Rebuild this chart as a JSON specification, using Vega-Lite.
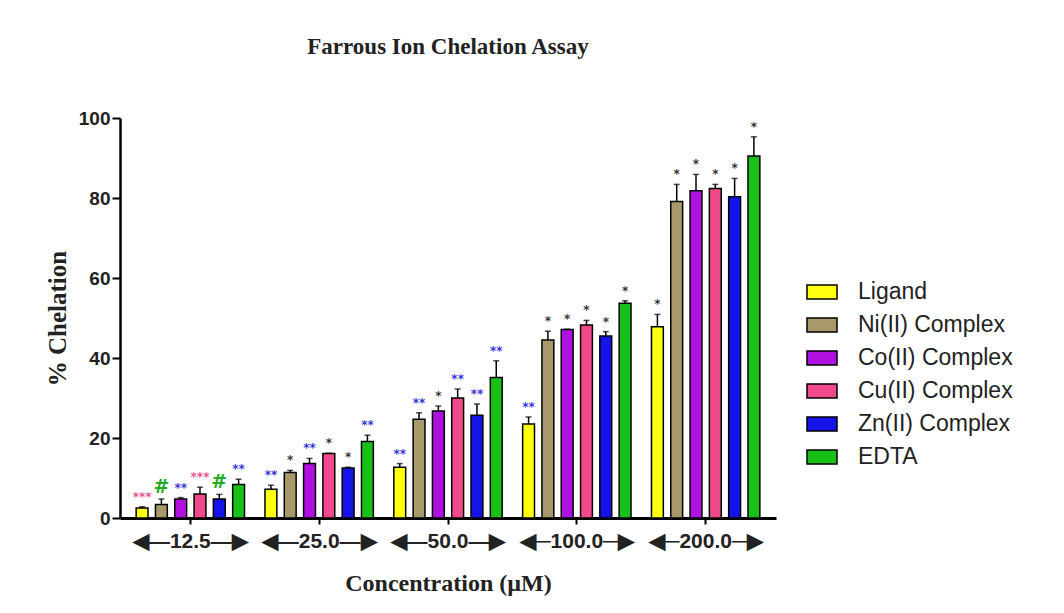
{
  "$schema": "https://vega.github.io/schema/vega-lite/v6.json",
  "autosize": "none",
  "width": 656,
  "height": 400,
  "padding": {"left": 120, "top": 118, "right": 288, "bottom": 95},
  "background": "white",
  "title": {"text": "Farrous Ion Chelation Assay", "font": "Liberation Serif", "fontSize": 23, "fontWeight": "bold", "color": "#222", "anchor": "middle", "offset": 50},
  "config": {"view": {"stroke": null}, "axis": {"grid": false}},
  "data": {"values": [
    {"conc": "12.5", "series": "Ligand", "value": 2.5, "upper": 2.8, "label": "***"},
    {"conc": "12.5", "series": "Ni(II) Complex", "value": 3.4, "upper": 4.75, "label": "#"},
    {"conc": "12.5", "series": "Co(II) Complex", "value": 4.75, "upper": 5.1, "label": "**"},
    {"conc": "12.5", "series": "Cu(II) Complex", "value": 6.0, "upper": 7.7, "label": "***"},
    {"conc": "12.5", "series": "Zn(II) Complex", "value": 4.75, "upper": 5.9, "label": "#"},
    {"conc": "12.5", "series": "EDTA", "value": 8.4, "upper": 9.7, "label": "**"},
    {"conc": "25.0", "series": "Ligand", "value": 7.2, "upper": 8.2, "label": "**"},
    {"conc": "25.0", "series": "Ni(II) Complex", "value": 11.4, "upper": 11.9, "label": "*"},
    {"conc": "25.0", "series": "Co(II) Complex", "value": 13.6, "upper": 14.9, "label": "**"},
    {"conc": "25.0", "series": "Cu(II) Complex", "value": 16.1, "upper": 16.2, "label": "*"},
    {"conc": "25.0", "series": "Zn(II) Complex", "value": 12.5, "upper": 12.7, "label": "*"},
    {"conc": "25.0", "series": "EDTA", "value": 19.1, "upper": 20.7, "label": "**"},
    {"conc": "50.0", "series": "Ligand", "value": 12.7, "upper": 13.6, "label": "**"},
    {"conc": "50.0", "series": "Ni(II) Complex", "value": 24.7, "upper": 26.3, "label": "**"},
    {"conc": "50.0", "series": "Co(II) Complex", "value": 26.75, "upper": 28.0, "label": "*"},
    {"conc": "50.0", "series": "Cu(II) Complex", "value": 30.0, "upper": 32.25, "label": "**"},
    {"conc": "50.0", "series": "Zn(II) Complex", "value": 25.7, "upper": 28.5, "label": "**"},
    {"conc": "50.0", "series": "EDTA", "value": 35.1, "upper": 39.3, "label": "**"},
    {"conc": "100.0", "series": "Ligand", "value": 23.5, "upper": 25.25, "label": "**"},
    {"conc": "100.0", "series": "Ni(II) Complex", "value": 44.5, "upper": 46.7, "label": "*"},
    {"conc": "100.0", "series": "Co(II) Complex", "value": 47.1, "upper": 47.2, "label": "*"},
    {"conc": "100.0", "series": "Cu(II) Complex", "value": 48.25, "upper": 49.4, "label": "*"},
    {"conc": "100.0", "series": "Zn(II) Complex", "value": 45.5, "upper": 46.6, "label": "*"},
    {"conc": "100.0", "series": "EDTA", "value": 53.7, "upper": 54.3, "label": "*"},
    {"conc": "200.0", "series": "Ligand", "value": 47.8, "upper": 50.9, "label": "*"},
    {"conc": "200.0", "series": "Ni(II) Complex", "value": 79.1, "upper": 83.4, "label": "*"},
    {"conc": "200.0", "series": "Co(II) Complex", "value": 81.8, "upper": 85.9, "label": "*"},
    {"conc": "200.0", "series": "Cu(II) Complex", "value": 82.4, "upper": 83.4, "label": "*"},
    {"conc": "200.0", "series": "Zn(II) Complex", "value": 80.3, "upper": 84.9, "label": "*"},
    {"conc": "200.0", "series": "EDTA", "value": 90.5, "upper": 95.3, "label": "*"}
  ]},
  "encoding": {
    "x": {"field": "conc", "type": "nominal", "sort": ["12.5", "25.0", "50.0", "100.0", "200.0"],
      "scale": {"paddingInner": 0, "paddingOuter": 0.046},
      "axis": {"title": "Concentration (µM)", "titleFont": "Liberation Serif", "titleFontSize": 24, "titleFontWeight": "bold", "titleColor": "#222", "titlePadding": 20,
        "labelAngle": 0, "labelFont": "Liberation Sans", "labelFontSize": 21, "labelFontWeight": "bold", "labelColor": "#222", "labelPadding": 6,
        "labelExpr": "length(datum.label) > 4 ? '◀─' + datum.label + '─▶' : '◀—' + datum.label + '—▶'",
        "domainColor": "black", "domainWidth": 3, "tickColor": "black", "tickWidth": 2, "tickSize": 6}},
    "xOffset": {"field": "series", "type": "nominal", "sort": ["Ligand", "Ni(II) Complex", "Co(II) Complex", "Cu(II) Complex", "Zn(II) Complex", "EDTA"],
      "scale": {"paddingInner": 0.385, "paddingOuter": 0.53}}
  },
  "layer": [
    {"mark": {"type": "bar", "stroke": "black", "strokeWidth": 1.5},
      "encoding": {
        "y": {"field": "value", "type": "quantitative", "scale": {"domain": [0, 100], "nice": false},
          "axis": {"title": "% Chelation", "titleFont": "Liberation Serif", "titleFontSize": 25, "titleFontWeight": "bold", "titleColor": "#222", "titlePadding": 8,
            "values": [0, 20, 40, 60, 80, 100], "labelFont": "Liberation Sans", "labelFontSize": 19, "labelFontWeight": "bold", "labelColor": "#222", "labelPadding": 2,
            "domainColor": "black", "domainWidth": 2.5, "tickColor": "black", "tickWidth": 2, "tickSize": 8}},
        "color": {"field": "series", "type": "nominal", "sort": ["Ligand", "Ni(II) Complex", "Co(II) Complex", "Cu(II) Complex", "Zn(II) Complex", "EDTA"],
          "scale": {"domain": ["Ligand", "Ni(II) Complex", "Co(II) Complex", "Cu(II) Complex", "Zn(II) Complex", "EDTA"],
            "range": ["#FFFF10", "#A8996A", "#B010E0", "#F04A8C", "#1414E8", "#18C018"]},
          "legend": {"title": null, "orient": "none", "legendX": 686, "legendY": 158,
            "symbolType": "M-1,-0.47H1V0.47H-1Z", "symbolSize": 900, "symbolStrokeColor": "black", "symbolStrokeWidth": 1.5, "symbolOpacity": 1,
            "labelFont": "Liberation Sans", "labelFontSize": 23, "labelColor": "#222", "labelOffset": 20, "rowPadding": 5, "labelLimit": 300}}
      }},
    {"mark": {"type": "rule", "color": "black", "strokeWidth": 1.5},
      "encoding": {"y": {"field": "value", "type": "quantitative"}, "y2": {"field": "upper"}}},
    {"mark": {"type": "tick", "color": "black", "thickness": 1.5, "size": 6},
      "encoding": {"y": {"field": "upper", "type": "quantitative"}}},
    {"mark": {"type": "text", "font": "DejaVu Sans", "fontWeight": "bold", "baseline": "alphabetic", "dy": -6},
      "encoding": {
        "y": {"field": "upper", "type": "quantitative"},
        "text": {"field": "label"},
        "size": {"condition": {"test": "datum.label == '#'", "value": 19}, "value": 12},
        "color": {"condition": [
          {"test": "datum.label == '#'", "value": "#22AA22"},
          {"test": "datum.label == '***'", "value": "#E85590"},
          {"test": "datum.label == '**'", "value": "#3535E0"}], "value": "#333333"}
      }}
  ]
}
